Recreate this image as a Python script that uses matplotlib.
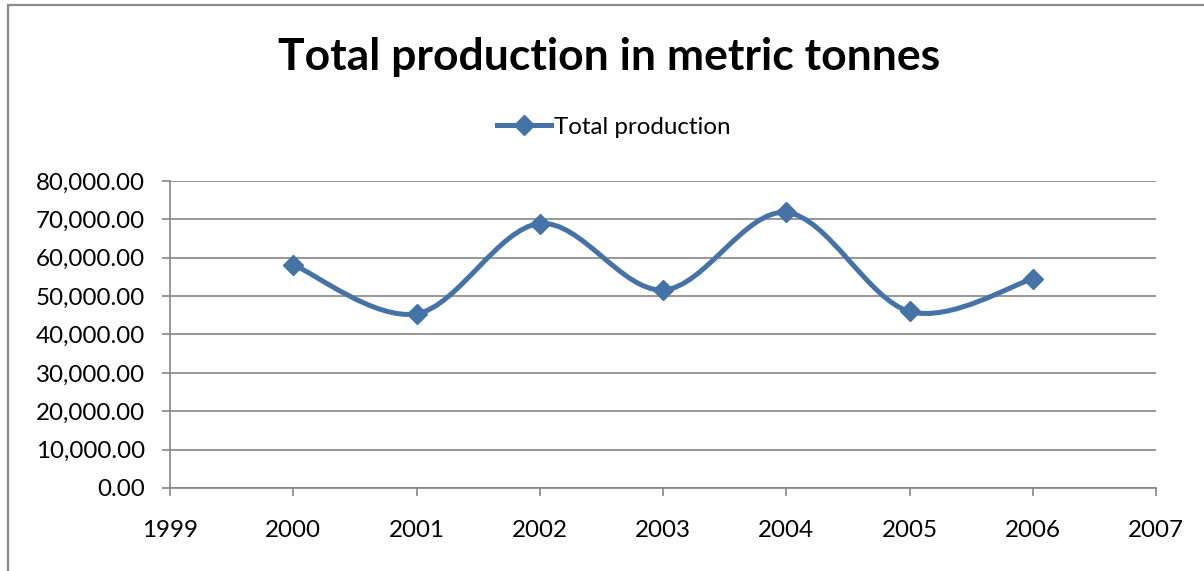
import matplotlib
matplotlib.use("Agg")
import matplotlib.pyplot as plt
import numpy as np
from matplotlib.path import Path
from matplotlib.patches import PathPatch, Rectangle
from matplotlib.lines import Line2D
from matplotlib.ticker import FuncFormatter, MultipleLocator

years = [2000, 2001, 2002, 2003, 2004, 2005, 2006]
production = [58200, 45400, 68900, 51600, 71800, 46000, 54500]
series_name = "Total production"
title = "Total production in metric tonnes"

plt.rcParams['font.family'] = ['Lato', 'DejaVu Sans']

W, H = 1204, 571
fig = plt.figure(figsize=(W / 100, H / 100), dpi=100)

# outer chart frame (cropped at right/bottom)
top = 1 - 5 / H
fig.patches.append(Rectangle((8 / W, -0.1), 1.2, top + 0.1,
                             transform=fig.transFigure, fill=False,
                             edgecolor="#898989", linewidth=1.6))

ax = fig.add_axes([170 / W, (H - 488) / H, (1156 - 170) / W, (488 - 181) / H])
ax.set_xlim(1999, 2007)
ax.set_ylim(0, 80000)
ax.xaxis.set_major_locator(MultipleLocator(1))
ax.yaxis.set_major_locator(MultipleLocator(10000))
ax.xaxis.set_major_formatter(FuncFormatter(lambda v, p: f"{int(round(v))}"))
ax.yaxis.set_major_formatter(FuncFormatter(lambda v, p: f"{v:,.2f}"))
ax.grid(axis="y", color="#868686", linewidth=1.2)
ax.set_axisbelow(True)
for s in ["top", "right"]:
    ax.spines[s].set_visible(False)
for s in ["left", "bottom"]:
    ax.spines[s].set_color("#868686")
    ax.spines[s].set_linewidth(1.2)
ax.tick_params(axis="both", colors="#868686", length=6, width=1.2,
               labelcolor="black", labelsize=17.4)
ax.tick_params(axis="x", pad=17)
ax.tick_params(axis="y", pad=12)

# smooth (Catmull-Rom style Bezier) line through points
pts = np.column_stack([years, production]).astype(float)
ext = np.vstack([pts[0], pts, pts[-1]])
verts = [tuple(pts[0])]
codes = [Path.MOVETO]
for i in range(len(pts) - 1):
    p0, p3 = ext[i + 1], ext[i + 2]
    c1 = p0 + (ext[i + 2] - ext[i]) / 6.0
    c2 = p3 - (ext[i + 3] - ext[i + 1]) / 6.0
    verts += [tuple(c1), tuple(c2), tuple(p3)]
    codes += [Path.CURVE4] * 3
color = "#4572A7"
ax.add_patch(PathPatch(Path(verts, codes), facecolor="none", edgecolor=color,
                       linewidth=3.6, capstyle="round", joinstyle="round", zorder=3))
ax.plot(years, production, linestyle="none", marker="D", markersize=10.5,
        color=color, zorder=4)

fig.text(609 / W, 1 - 57 / H, title, ha="center", va="center",
         fontsize=32, fontweight="bold")

handle = Line2D([], [], color=color, linewidth=3.6, marker="D", markersize=10.5)
fig.legend([handle], [series_name], loc="center", bbox_to_anchor=(614 / W, 1 - 127 / H),
           frameon=False, fontsize=17.4, handlelength=2.2, handletextpad=0.15)

fig.savefig("out.png", dpi=100)
